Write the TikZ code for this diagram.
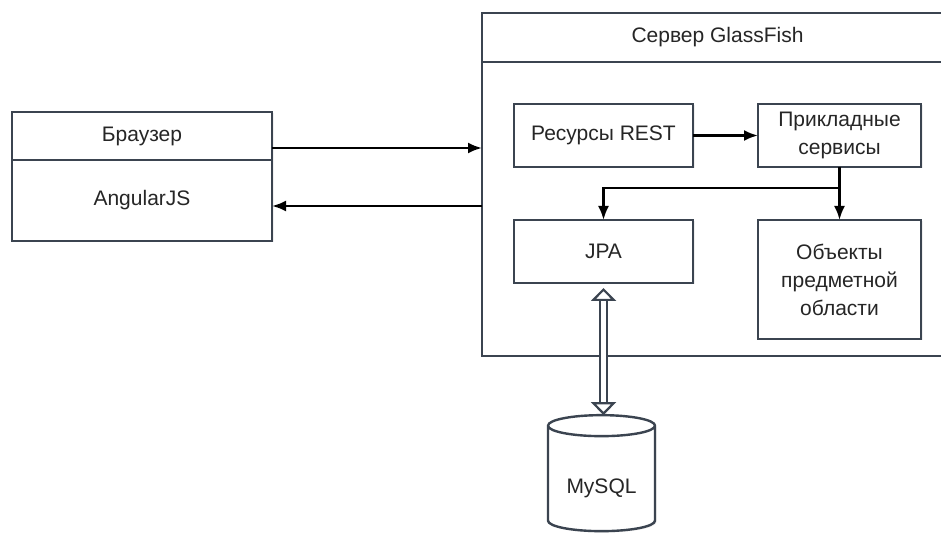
\documentclass[tikz,border=0pt]{standalone}
\usepackage{fontspec}
\setmainfont{Liberation Sans}
\usetikzlibrary{shapes.geometric, arrows.meta, positioning, shadows}
\definecolor{frame}{HTML}{3B4450}
\tikzstyle{arrow} = [line width=2.4pt,-{Latex[length=14pt,width=11pt]}]
\tikzstyle{dbarrow} = [draw=frame, line width=2.2pt, double=white, double distance=5pt, {Triangle[open,length=13pt,width=25pt]}-{Triangle[open,length=13pt,width=25pt]}]
\tikzstyle{block} = [rectangle, draw=frame, line width=2.4pt, fill=white, inner sep=0pt, outer sep=0pt, align=center, text=black!85, font=\fontsize{21}{28}\selectfont, drop shadow={opacity=0.12,shadow xshift=1.5pt,shadow yshift=-1.5pt}]

\begin{document}
\begin{tikzpicture}[x=1pt,y=1pt]
\useasboundingbox (0,0) rectangle (941,535);
\clip (0,0) rectangle (941,535);

% Browser
\node (browser) [block, minimum width=260pt, minimum height=48pt] at (142,399) {Браузер};
\node (angular) [block, below=0pt of browser, minimum width=260pt, minimum height=81pt] {AngularJS};

% Server
\node (serverhead) [block, minimum width=471pt, minimum height=49pt] at (717.5,497.5) {Сервер GlassFish};
\node (serverbody) [block, below=0pt of serverhead, minimum width=471pt, minimum height=294pt] {};

\node (rest) [block, minimum width=179pt, minimum height=63pt] at (603.5,399.5) {Ресурсы REST};
\node (services) [block, minimum width=163pt, minimum height=63pt] at (839.5,399.5) {Прикладные\\сервисы};
\node (jpa) [block, minimum width=179pt, minimum height=63pt] at (603.5,283.5) {JPA};
\node (objects) [block, minimum width=163pt, minimum height=119pt] at (839.5,255.5) {Объекты\\предметной\\области};

% Database
\node (db) [block, cylinder, shape border rotate=90, aspect=0.3, text height=33pt, text depth=4.4pt, minimum width=107pt, minimum height=116pt] at (601.5,56) {MySQL};

% Connections
\draw [arrow] ([yshift=-12pt]browser.east) -- ([yshift=-12pt]browser.east -| serverbody.west);
\draw [arrow] ([yshift=-5.5pt]angular.east -| serverbody.west) -- ([yshift=-5.5pt]angular.east);
\draw [arrow] (rest) -- (services);
\coordinate (split) at ([yshift=-21pt]services.south);
\draw [line width=2.4pt] (services) -- (split);
\draw [arrow] (split) -| (jpa);
\draw [arrow] (split) -- (objects);
\draw [dbarrow, shorten <=5pt] (jpa.south) -- (jpa.south |- db.north);

\end{tikzpicture}
\end{document}
